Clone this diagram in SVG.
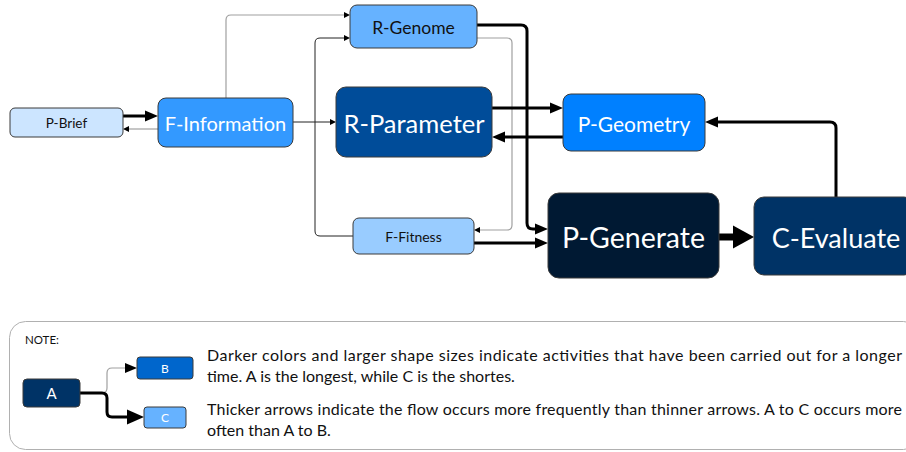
<svg xmlns="http://www.w3.org/2000/svg" width="906" height="452" viewBox="0 0 906 452">
<style>
.node{stroke:#3a3a3a;stroke-width:1}
.lbl{font-family:Lato,"Open Sans","Liberation Sans",sans-serif;text-anchor:middle;dominant-baseline:central}
.w{fill:#ffffff}
.d{fill:#111111}
.c{fill:none;stroke-linejoin:round}
.thin{stroke:#222;stroke-width:1}
.gray{stroke:#a0a0a0;stroke-width:1.2}
.thick{stroke:#000;stroke-width:3}
.xthick{stroke:#000;stroke-width:7}
.note{font-family:Lato,"Open Sans","Liberation Sans",sans-serif;font-size:16px;fill:#111}
</style>
<defs>
<marker id="hs" markerUnits="userSpaceOnUse" markerWidth="7" markerHeight="7" refX="0" refY="3" orient="auto" overflow="visible"><path d="M0,0 L6,3 L0,6 z" fill="#000"/></marker>
<marker id="hm" markerUnits="userSpaceOnUse" markerWidth="14" markerHeight="12" refX="0" refY="5.5" orient="auto" overflow="visible"><path d="M0,0 L13,5.5 L0,11 z" fill="#000"/></marker>
<marker id="hb" markerUnits="userSpaceOnUse" markerWidth="22" markerHeight="24" refX="0" refY="11.5" orient="auto" overflow="visible"><path d="M0,0 L21,11.5 L0,23 z" fill="#000"/></marker>
<marker id="hl" markerUnits="userSpaceOnUse" markerWidth="18" markerHeight="16" refX="0" refY="7.5" orient="auto" overflow="visible"><path d="M0,0 L17,7.5 L0,15 z" fill="#000"/></marker>
<marker id="hg" markerUnits="userSpaceOnUse" markerWidth="13" markerHeight="11" refX="0" refY="5" orient="auto" overflow="visible"><path d="M0,0 L12,5 L0,10 z" fill="#000"/></marker>
</defs>

<g id="connectors">
<path class="c thick" d="M123,116 H145" marker-end="url(#hm)"/>
<path class="c gray" d="M158,129 H129" marker-end="url(#hs)"/>
<path class="c gray" d="M226,98 V20 Q226,15 231,15 H344" marker-end="url(#hs)"/>
<path class="c thin" d="M293,122 H330" marker-end="url(#hs)"/>
<path class="c thin" d="M353,236 H320 Q315,236 315,231 V43 Q315,38 320,38 H344" marker-end="url(#hs)"/>
<path class="c thick" d="M477,25 H521 Q527,25 527,31 V223 Q527,229 533,229 H535" marker-end="url(#hm)"/>
<path class="c gray" d="M477,38 H507 Q512,38 512,43 V225 Q512,230 507,230 H480" marker-end="url(#hs)"/>
<path class="c thick" d="M492,108 H550" marker-end="url(#hm)"/>
<path class="c thick" d="M563,137 H505" marker-end="url(#hm)"/>
<path class="c thick" d="M474,243 H535" marker-end="url(#hm)"/>
<path class="c xthick" d="M719,237 H733" marker-end="url(#hb)"/>
<path class="c thick" d="M836,197 V128 Q836,122 830,122 H718" marker-end="url(#hm)"/>
</g>

<g id="P-Brief"><rect class="node" x="10" y="108" width="113" height="29" rx="5" fill="#cce5ff"/><text class="lbl d" x="66.5" y="123" font-size="13.5">P-Brief</text></g>
<g id="F-Information"><rect class="node" x="158" y="98" width="135" height="49" rx="8" fill="#3399ff"/><text class="lbl w" x="225.5" y="123" font-size="20">F-Information</text></g>
<g id="R-Genome"><rect class="node" x="350" y="5" width="127" height="43" rx="7" fill="#66b2ff"/><text class="lbl d" x="413.5" y="27" font-size="17.5">R-Genome</text></g>
<g id="R-Parameter"><rect class="node" x="336" y="87" width="156" height="70" rx="10" fill="#004c99"/><text class="lbl w" x="414" y="123" font-size="25.5">R-Parameter</text></g>
<g id="P-Geometry"><rect class="node" x="563" y="94" width="142" height="57" rx="8" fill="#0080ff"/><text class="lbl w" x="634" y="123" font-size="21">P-Geometry</text></g>
<g id="F-Fitness"><rect class="node" x="353" y="218" width="121" height="36" rx="6" fill="#99ccff"/><text class="lbl d" x="413.5" y="236.5" font-size="14">F-Fitness</text></g>
<g id="P-Generate"><rect class="node" x="548" y="193" width="171" height="85" rx="11" fill="#001933"/><text class="lbl w" x="633.5" y="237" font-size="28.5">P-Generate</text></g>
<g id="C-Evaluate"><rect class="node" x="754" y="197" width="160" height="78" rx="10" fill="#003366"/><text class="lbl w" x="836" y="237" font-size="27">C-Evaluate</text></g>

<g id="legend">
<rect x="9.5" y="321.5" width="910" height="128" rx="16" fill="none" stroke="#b0b0b0" stroke-width="1"/>
<text x="25" y="344" font-family="Lato,'Open Sans','Liberation Sans',sans-serif" font-size="11.5" fill="#111">NOTE:</text>
<path class="c gray" d="M80,393 H102 Q107,393 107,388 V373 Q107,368 112,368 H125" marker-end="url(#hg)"/>
<path class="c thick" d="M80,393 H102 Q107,393 107,398 V412 Q107,417 112,417 H127" marker-end="url(#hl)"/>
<g id="A"><rect class="node" x="23" y="379" width="57" height="28" rx="4" fill="#003366"/><text class="lbl w" x="51.5" y="393" font-size="15">A</text></g>
<g id="B"><rect class="node" x="137" y="357" width="56" height="22" rx="3" fill="#0066cc"/><text class="lbl w" x="165" y="368" font-size="12">B</text></g>
<g id="C"><rect class="node" x="144" y="407" width="42" height="21" rx="3" fill="#66b2ff"/><text class="lbl w" x="165" y="417.5" font-size="12">C</text></g>
<text class="note" x="207" y="361" textLength="695" lengthAdjust="spacing">Darker colors and larger shape sizes indicate activities that have been carried out for a longer</text>
<text class="note" x="207" y="382">time. A is the longest, while C is the shortes.</text>
<text class="note" x="207" y="415" textLength="695" lengthAdjust="spacing">Thicker arrows indicate the flow occurs more frequently than thinner arrows. A to C occurs more</text>
<text class="note" x="207" y="436">often than A to B.</text>
</g>
</svg>
